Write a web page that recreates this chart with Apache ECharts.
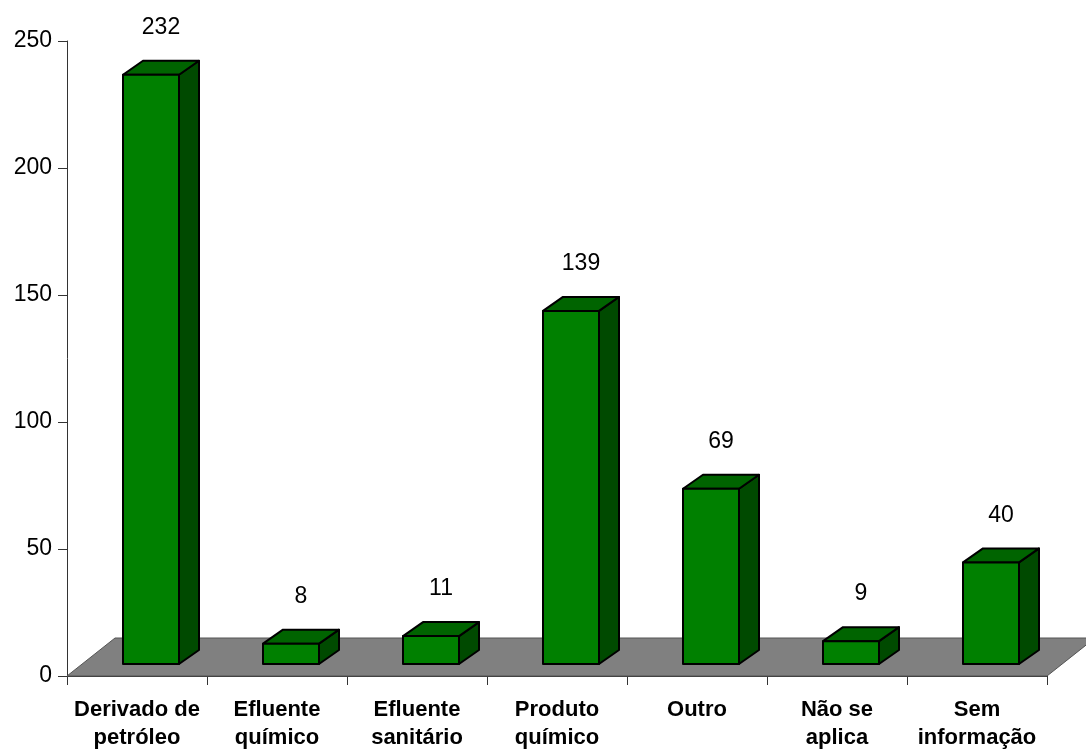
<!DOCTYPE html>
<html>
<head>
<meta charset="utf-8">
<script src="https://cdn.jsdelivr.net/npm/echarts@6/dist/echarts.min.js"></script>
<style>
  html, body { margin: 0; padding: 0; background: #fff; }
  #chart { width: 1086px; height: 752px; }
</style>
</head>
<body>
<div id="chart"></div>
<script>
// Tipos de produto envolvidos nas ocorrências
const categories = [
  'Derivado de\npetróleo',
  'Efluente\nquímico',
  'Efluente\nsanitário',
  'Produto\nquímico',
  'Outro',
  'Não se\naplica',
  'Sem\ninformação'
];
const counts = [232, 8, 11, 139, 69, 9, 40];
const yTicks = [0, 50, 100, 150, 200, 250];

const FONT = '"Liberation Sans", Arial, sans-serif';

// 3D look: offsets of the bar front face and its depth, in pixels
const FRONT_LIFT = 12;    // front face sits slightly inside the floor
const FRONT_SHIFT = 0.1;  // fraction of a category band
const DEPTH_X = 20, DEPTH_Y = 14;
const FLOOR_X = 48, FLOOR_Y = 38;

const chart = echarts.init(document.getElementById('chart'), null, { renderer: 'canvas' });

function renderBar(params, api) {
  const idx = api.value(0);
  const val = api.value(1);
  const base = api.coord([idx, 0]);
  const top = api.coord([idx, val]);
  const band = api.size([1, 0])[0];
  const bw = band * 0.4;
  const cx = base[0] + band * FRONT_SHIFT;
  const x0 = cx - bw / 2, x1 = cx + bw / 2;
  const yb = base[1] - FRONT_LIFT;
  const yt = yb - (base[1] - top[1]);
  const lineStyle = { stroke: '#000', lineWidth: 2, lineJoin: 'round' };
  return {
    type: 'group',
    children: [
      {
        type: 'polygon',
        shape: { points: [[x1, yb], [x1 + DEPTH_X, yb - DEPTH_Y], [x1 + DEPTH_X, yt - DEPTH_Y], [x1, yt]] },
        style: Object.assign({ fill: '#004a00' }, lineStyle)
      },
      {
        type: 'polygon',
        shape: { points: [[x0, yt], [x1, yt], [x1 + DEPTH_X, yt - DEPTH_Y], [x0 + DEPTH_X, yt - DEPTH_Y]] },
        style: Object.assign({ fill: '#006400' }, lineStyle)
      },
      {
        type: 'rect',
        shape: { x: x0, y: yt, width: bw, height: yb - yt },
        style: Object.assign({ fill: '#008000' }, lineStyle)
      },
      {
        type: 'text',
        style: {
          text: String(val),
          x: cx + DEPTH_X / 2,
          y: yt - DEPTH_Y - 33,
          align: 'center',
          verticalAlign: 'middle',
          fontFamily: FONT,
          fontSize: 23,
          fill: '#000'
        }
      }
    ]
  };
}

function renderFloor(params, api) {
  const cs = params.coordSys;
  const xl = cs.x, xr = cs.x + cs.width, y0 = cs.y + cs.height;
  return {
    type: 'polygon',
    shape: { points: [[xl, y0], [xr, y0], [xr + FLOOR_X, y0 - FLOOR_Y], [xl + FLOOR_X, y0 - FLOOR_Y]] },
    style: { fill: '#808080', stroke: '#555', lineWidth: 1 }
  };
}

chart.setOption({
  backgroundColor: '#fff',
  animation: false,
  grid: { left: 67, right: 39, top: 41, bottom: 73 },
  xAxis: {
    type: 'category',
    data: categories,
    axisLine: { lineStyle: { color: '#333', width: 1 } },
    axisTick: { show: true, length: 9, lineStyle: { color: '#333' } },
    axisLabel: {
      interval: 0,
      margin: 20,
      fontFamily: FONT,
      fontSize: 22,
      fontWeight: 'bold',
      lineHeight: 28,
      color: '#000'
    },
    splitLine: { show: false }
  },
  yAxis: {
    type: 'value',
    min: yTicks[0],
    max: yTicks[yTicks.length - 1],
    interval: 50,
    axisLine: { show: true, lineStyle: { color: '#333', width: 1 } },
    axisTick: { show: true, length: 9, lineStyle: { color: '#333' } },
    axisLabel: { margin: 15, fontFamily: FONT, fontSize: 23, color: '#000' },
    splitLine: { show: false }
  },
  series: [
    {
      type: 'custom',
      z: 1,
      renderItem: renderFloor,
      data: [[0, 0]],
      silent: true
    },
    {
      type: 'custom',
      z: 3,
      renderItem: renderBar,
      data: counts.map((v, i) => [i, v]),
      clip: false
    }
  ]
});
</script>
</body>
</html>
